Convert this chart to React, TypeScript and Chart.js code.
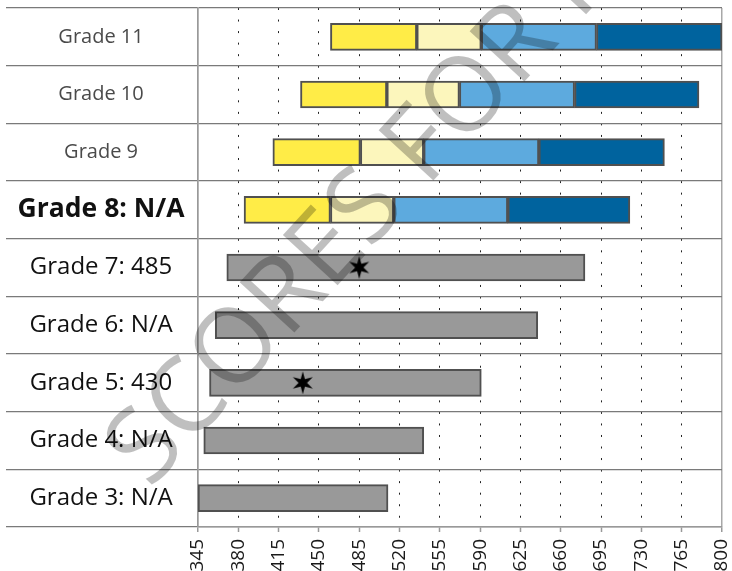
import React, { useEffect, useRef } from "react";
import { Chart, registerables } from "chart.js";

Chart.register(...registerables);

const categories = [
  "Grade 11",
  "Grade 10",
  "Grade 9",
  "Grade 8: N/A",
  "Grade 7: 485",
  "Grade 6: N/A",
  "Grade 5: 430",
  "Grade 4: N/A",
  "Grade 3: N/A",
];

// cut scores for grades 11, 10, 9, 8 (start, level boundaries, end)
const cutGrade11 = [460, 535, 591, 691, 800];
const cutGrade10 = [434, 509, 572, 672, 780];
const cutGrade9 = [410, 486, 541, 641, 750];
const cutGrade8 = [385, 460, 515, 614, 720];

// grey ranges for grades 7..3
const rangeGrade7 = [370, 681];
const rangeGrade6 = [360, 640];
const rangeGrade5 = [355, 591];
const rangeGrade4 = [350, 541];
const rangeGrade3 = [345, 510];

// student score markers (value per category, null where none)
const scoreMarkers = [null, null, null, null, 485, null, 436, null, null];

const xMin = 345;
const xMax = 800;
const xStep = 35;

const levelColors = ["#FFEC47", "#FCF6BC", "#5DAADE", "#00639E"];

export default function App() {
  const ref = useRef<HTMLCanvasElement | null>(null);

  useEffect(() => {
    if (!ref.current) return;
    const cutRows = [cutGrade11, cutGrade10, cutGrade9, cutGrade8];
    const levelDatasets = levelColors.map((color, li) => ({
      type: "bar" as const,
      label: "Level " + (li + 1),
      data: categories.map((_, ci) =>
        ci < cutRows.length ? [cutRows[ci][li], cutRows[ci][li + 1]] : null
      ),
      backgroundColor: color,
      borderColor: "#505050",
      borderWidth: 2,
      borderSkipped: false,
      barThickness: 27,
      grouped: false,
    }));
    const greyRanges = [rangeGrade7, rangeGrade6, rangeGrade5, rangeGrade4, rangeGrade3];
    const greyDataset = {
      type: "bar" as const,
      label: "Range",
      data: categories.map((_, ci) => (ci >= 4 ? greyRanges[ci - 4] : null)),
      backgroundColor: "#999999",
      borderColor: "#505050",
      borderWidth: 2,
      borderSkipped: false,
      barThickness: 27,
      grouped: false,
    };

    // six-pointed star marker
    const star = document.createElement("canvas");
    star.width = 26;
    star.height = 26;
    const sc = star.getContext("2d")!;
    sc.beginPath();
    const R = 11.5;
    const r = 4.2;
    for (let i = 0; i < 12; i++) {
      const a = -Math.PI / 2 + (i * Math.PI) / 6;
      const rad = i % 2 === 0 ? R : r;
      const px = 13 + rad * Math.cos(a);
      const py = 13 + rad * Math.sin(a);
      if (i === 0) sc.moveTo(px, py);
      else sc.lineTo(px, py);
    }
    sc.closePath();
    sc.fillStyle = "#000";
    sc.fill();

    const starDataset = {
      type: "line" as const,
      label: "Score",
      indexAxis: "y",
      data: scoreMarkers,
      pointStyle: star,
      pointRadius: 12,
      showLine: false,
      spanGaps: false,
      order: -1,
    };

    const watermark = {
      id: "watermark",
      afterDatasetsDraw(chart: any) {
        const ctx = chart.ctx;
        ctx.save();
        ctx.translate(150, 490);
        ctx.rotate((-47.5 * Math.PI) / 180);
        ctx.font = '400 104px "Open Sans"';
        ctx.fillStyle = "rgba(0,0,0,0.25)";
        ctx.textBaseline = "alphabetic";
        ctx.textAlign = "left";
        ctx.fillText("SCORES FOR REFERENCE", 0, 0);
        ctx.restore();
      },
    };

    const chart = new Chart(ref.current, {
      type: "bar",
      data: {
        labels: categories,
        datasets: [...levelDatasets, greyDataset, starDataset] as any,
      },
      options: {
        indexAxis: "y",
        responsive: false,
        animation: false,
        layout: { autoPadding: false, padding: { left: 6, right: 10, top: 8, bottom: 0 } },
        plugins: {
          legend: { display: false },
          tooltip: { enabled: false },
        },
        scales: {
          x: {
            type: "linear",
            min: xMin,
            max: xMax,
            afterBuildTicks: (scale: any) => {
              const t = [];
              for (let v = xMin; v <= xMax; v += xStep) t.push({ value: v });
              scale.ticks = t;
            },
            afterFit: (scale: any) => {
              scale.height = 44;
              scale.paddingLeft = 0;
              scale.paddingRight = 0;
            },
            ticks: {
              autoSkip: false,
              maxRotation: 90,
              minRotation: 90,
              padding: 7,
              color: "#1a1a1a",
              font: { family: '"Open Sans"', size: 19 },
            },
            grid: {
              color: (ctx: any) =>
                ctx.index === 0 || ctx.index === 13 ? "#a8a8a8" : "#222",
              lineWidth: (ctx: any) => (ctx.index === 0 || ctx.index === 13 ? 1.5 : 1),
              tickColor: "#999",
              tickLength: 5,
              tickWidth: 1.5,
            },
            border: {
              display: true,
              color: "#999",
              width: 1.5,
              dash: (ctx: any) =>
                ctx.index === 0 || ctx.index === 13 ? [] : [2, 9.54],
            },
          },
          y: {
            type: "category",
            afterFit: (scale: any) => {
              scale.width = 192;
            },
            ticks: {
              crossAlign: "center",
              padding: -178.5,
              color: (ctx: any) => (ctx.index <= 2 ? "#4a4a4a" : "#111"),
              font: (ctx: any) =>
                ctx.index <= 2
                  ? { family: '"Open Sans"', size: 20, weight: "normal" }
                  : ctx.index === 3
                  ? { family: '"Open Sans"', size: 26.5, weight: "bold" }
                  : { family: '"Open Sans"', size: 24, weight: "normal" },
            },
            grid: {
              offset: true,
              color: "#7a7a7a",
              lineWidth: 1.2,
              tickLength: 192,
              tickColor: "#7a7a7a",
            },
            border: { display: true, color: "#999", width: 1.5 },
          },
        },
      },
      plugins: [watermark],
    });
    return () => chart.destroy();
  }, []);

  return (
    <div style={{ position: "fixed", left: 0, top: 0, width: 732, height: 571, background: "#fff" }}>
      <canvas ref={ref} width={732} height={571} />
    </div>
  );
}
